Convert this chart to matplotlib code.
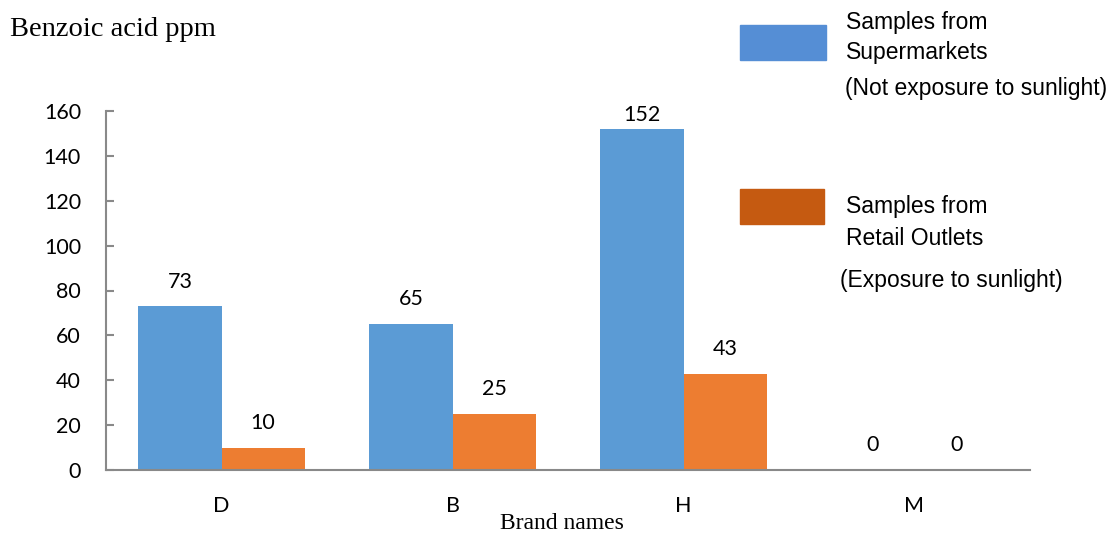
import numpy as np
import matplotlib.pyplot as plt
from matplotlib.patches import Rectangle

brands = ['D', 'B', 'H', 'M']
supermarkets = [73, 65, 152, 0]
retail = [10, 25, 43, 0]

yticks = [0, 20, 40, 60, 80, 100, 120, 140, 160]

blue = '#5B9BD5'
orange = '#ED7D31'
axisGrey = '#898989'


def main() -> None:
    fig = plt.figure(figsize=(11.14, 5.36), dpi=100)
    ax = fig.add_axes([106 / 1114, 66 / 536, 924 / 1114, 359 / 536])

    x = np.arange(len(brands))
    width = 0.36

    barsA = ax.bar(x - width / 2, supermarkets, width, color=blue)
    barsB = ax.bar(x + width / 2, retail, width, color=orange)

    labelFont = dict(family='Lato', size=15.5, color='black')
    for bars in (barsA, barsB):
        for bar in bars:
            h = bar.get_height()
            # labels sit above the bar, but never above the top of the axis
            ax.text(bar.get_x() + bar.get_width() / 2, min(h + 11, 158), f'{h:.0f}',
                    ha='center', va='center', **labelFont)

    ax.set_xlim(-0.5, 3.5)
    ax.set_ylim(0, 160)
    ax.set_yticks(yticks)
    ax.set_xticks(x)
    ax.set_xticklabels(brands)

    for side in ('top', 'right'):
        ax.spines[side].set_visible(False)
    for side in ('left', 'bottom'):
        ax.spines[side].set_color(axisGrey)
        ax.spines[side].set_linewidth(1.5)

    ax.tick_params(axis='y', direction='in', length=6, width=1.5, color=axisGrey, pad=18)
    ax.tick_params(axis='x', length=0, pad=19)
    for lab in ax.get_xticklabels() + ax.get_yticklabels():
        lab.set_fontfamily('Lato')
        lab.set_fontsize(15.5)

    fig.text(0.009, 0.945, 'Benzoic acid ppm', family='Liberation Serif', fontsize=20.5,
             ha='left', va='center')
    fig.text(562 / 1114, 0.024, 'Brand names', family='Liberation Serif', fontsize=17,
             ha='center', va='center')

    # legend drawn by hand, boxes and text placed like the original
    fig.patches.append(Rectangle((740 / 1114, 1 - 60 / 536), 86 / 1114, 35 / 536,
                                 transform=fig.transFigure, color='#558ED5'))
    fig.patches.append(Rectangle((740 / 1114, 1 - 224 / 536), 84 / 1114, 35 / 536,
                                 transform=fig.transFigure, color='#C55A11'))

    legFont = dict(family='Liberation Sans', fontsize=16.5, ha='left', va='center')
    fig.text(846 / 1114, 1 - 22 / 536, 'Samples from', **legFont)
    fig.text(846 / 1114, 1 - 53 / 536, 'Supermarkets', **legFont)
    fig.text(845 / 1114, 1 - 88 / 536, '(Not exposure to sunlight)', **legFont)
    fig.text(846 / 1114, 1 - 207 / 536, 'Samples from', **legFont)
    fig.text(846 / 1114, 1 - 239 / 536, 'Retail Outlets', **legFont)
    fig.text(840 / 1114, 1 - 280 / 536, '(Exposure to sunlight)', **legFont)

    fig.savefig('out.png', dpi=100)


if __name__ == '__main__':
    main()
